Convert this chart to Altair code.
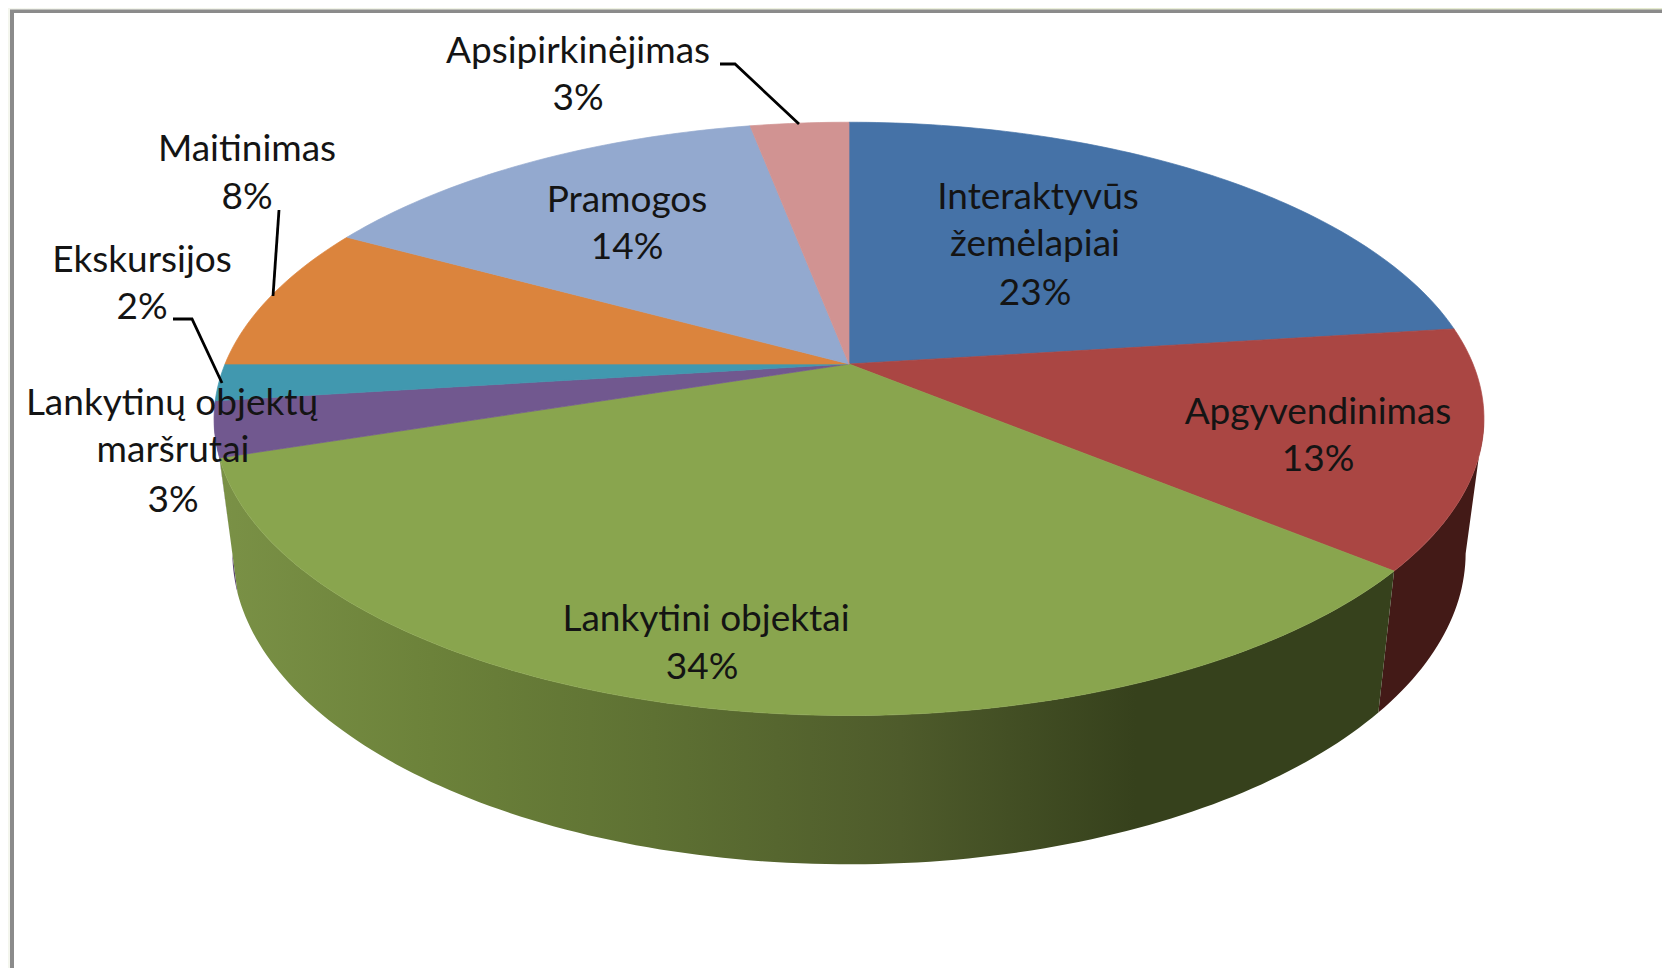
import math
import altair as alt
import pandas as pd

# ---- values
categories = ["Interaktyvūs žemėlapiai", "Apgyvendinimas", "Lankytini objektai",
              "Lankytinų objektų maršrutai", "Ekskursijos", "Maitinimas", "Pramogos",
              "Apsipirkinėjimas"]
shares = [23, 13, 34, 3, 2, 8, 14, 3]
top_colors = ["#4572A7", "#AA4643", "#89A54E", "#71588F", "#4198AF", "#DB843D", "#93A9CF", "#D19392"]
wall_categories = ["Lankytinų objektų maršrutai", "Apgyvendinimas"]
wall_colors = ["#5b4672", "#431A17"]

label_rows = ["Interaktyvūs", "žemėlapiai", "23%", "Apgyvendinimas", "13%", "Lankytini objektai", "34%",
              "Lankytinų objektų", "maršrutai", "3%", "Ekskursijos", "2%", "Maitinimas", "8%",
              "Pramogos", "14%", "Apsipirkinėjimas", "3%"]
label_x = [1038, 1035, 1035, 1318, 1318, 706, 702, 172, 173, 173, 142, 142, 247, 247, 627, 627, 578, 578]
label_y = [209, 256, 305, 424, 471, 631, 679, 415, 462, 512, 272, 319, 161, 209, 212, 259, 63, 110]

leader_id = [0, 0, 0, 1, 1, 2, 2, 2]
leader_x = [720, 735, 799, 279, 273, 173, 192, 222]
leader_y = [64, 64, 124, 210, 296, 319, 319, 383]

# ---- perspective of the tilted disc
CX, CY, A, B, P = 849, 364, 624, 286.5, 0.185
BX, BY, A2, B2 = 849, 495, 606, 301
X0, X1, Y0, Y1 = 8, 1662, 8, 968
VISIBLE_FROM, VISIBLE_TO = 0.28, 0.72


def project(phi, cx, cy, a, b):
    u, v = math.sin(phi), math.cos(phi)
    d = 1 + P * v
    return cx + a * u / d, cy - b * v / d


def arc(start, end, cx, cy, a, b):
    n = max(2, int((end - start) * 360))
    return [project(2 * math.pi * (start + (end - start) * k / n), cx, cy, a, b) for k in range(n + 1)]


top_rows, wall_rows = [], []
acc = 0
for name, share in zip(categories, shares):
    s, e = acc / 100, (acc + share) / 100
    acc += share
    pts = [(CX, CY)] + arc(s, e, CX, CY, A, B)
    top_rows += [{"slice": name, "i": i, "x": x, "y": y} for i, (x, y) in enumerate(pts)]
    if name in wall_categories or name == "Lankytini objektai":
        vs, ve = max(s, VISIBLE_FROM), min(e, VISIBLE_TO)
        pts = arc(vs, ve, CX, CY, A, B) + arc(vs, ve, BX, BY, A2, B2)[::-1]
        wall_rows += [{"slice": name, "i": i, "x": x, "y": y} for i, (x, y) in enumerate(pts)]

top = pd.DataFrame(top_rows)
wall = pd.DataFrame(wall_rows)
labels = pd.DataFrame({"t": label_rows, "x": label_x, "y": label_y})
leaders = pd.DataFrame({"id": leader_id, "i": range(len(leader_id)), "x": leader_x, "y": leader_y})

xs = alt.Scale(domain=[X0, X1], nice=False, zero=False)
ys = alt.Scale(domain=[Y1, Y0], nice=False, zero=False)
ex = alt.X("x:Q", scale=xs, axis=None)
ey = alt.Y("y:Q", scale=ys, axis=None)

frame = pd.DataFrame({"x": [X0, 10, 14], "x2": [X1, X1, X1], "y": [Y0, 9.5, 13], "y2": [Y1, Y1, Y1]})
pale = alt.Chart(frame.iloc[[0]]).mark_rect(
    fill=alt.Gradient(gradient="linear", x1=0, x2=1, y1=0, y2=0,
                      stops=[alt.GradientStop(color="#f4f6ee", offset=0),
                             alt.GradientStop(color="#e5ebcf", offset=1)])
).encode(x=ex, x2="x2:Q", y=ey, y2="y2:Q")
grey = alt.Chart(frame.iloc[[1]]).mark_rect(fill="#8b8b8b").encode(x=ex, x2="x2:Q", y=ey, y2="y2:Q")
white = alt.Chart(frame.iloc[[2]]).mark_rect(fill="#ffffff").encode(x=ex, x2="x2:Q", y=ey, y2="y2:Q")

wall_scale = alt.Scale(domain=wall_categories, range=wall_colors)
plain_walls = alt.Chart(wall[wall["slice"].isin(wall_categories)]).mark_line(
    filled=True, interpolate="linear-closed", strokeWidth=0
).encode(x=ex, y=ey, order="i:Q", detail="slice:N",
         fill=alt.Fill("slice:N", scale=wall_scale, legend=None))

green_wall = alt.Chart(wall[wall["slice"] == "Lankytini objektai"]).mark_line(
    filled=True, interpolate="linear-closed", strokeWidth=0,
    fill=alt.Gradient(gradient="linear", x1=0, x2=1, y1=0, y2=0,
                      stops=[alt.GradientStop(color="#7a9146", offset=0),
                             alt.GradientStop(color="#6c823a", offset=0.18),
                             alt.GradientStop(color="#5e7133", offset=0.37),
                             alt.GradientStop(color="#4e5b2b", offset=0.58),
                             alt.GradientStop(color="#36411c", offset=0.78),
                             alt.GradientStop(color="#36411c", offset=1)])
).encode(x=ex, y=ey, order="i:Q")

top_scale = alt.Scale(domain=categories, range=top_colors)
slices = alt.Chart(top).mark_line(filled=True, interpolate="linear-closed", strokeWidth=0.7).encode(
    x=ex, y=ey, order="i:Q", detail="slice:N",
    fill=alt.Fill("slice:N", scale=top_scale, legend=None),
    stroke=alt.Stroke("slice:N", scale=top_scale, legend=None))

leader_lines = alt.Chart(leaders).mark_line(color="#000000", strokeWidth=2.8).encode(
    x=ex, y=ey, order="i:Q", detail="id:N")

texts = alt.Chart(labels).mark_text(font="Lato", fontSize=37, baseline="alphabetic", align="center",
                                    color="#141414").encode(x=ex, y=ey, text="t:N")

chart = alt.layer(pale, grey, white, plain_walls, green_wall, slices, leader_lines, texts).resolve_scale(
    fill="independent", stroke="independent"
).properties(
    width=X1 - X0, height=Y1 - Y0, padding=0
).configure_view(stroke=None)

chart.save("out.html", embed_options={"renderer": "svg", "actions": False})
